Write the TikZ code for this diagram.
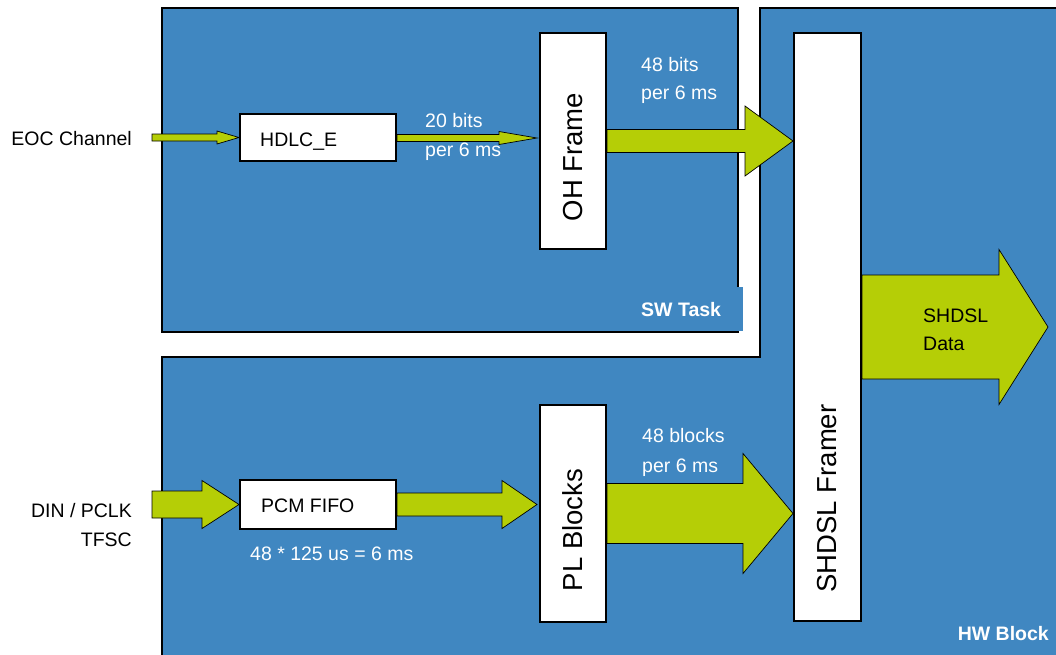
\documentclass[tikz,border=0pt]{standalone}
\usepackage{fontspec}
\setmainfont{Liberation Sans}
\usetikzlibrary{calc}
\definecolor{regionblue}{RGB}{64,135,193}
\definecolor{flowgreen}{RGB}{181,206,6}
\tikzset{
  region/.style={fill=regionblue, draw=black, line width=2pt, line join=miter},
  unitbox/.style={draw=black, fill=white, line width=2pt, inner sep=0pt},
  flow/.style={fill=flowgreen, draw=black, line width=0.7pt, line join=miter},
  txt/.style={font=\fontsize{19.5}{22}\selectfont, inner sep=0pt},
  wlbl/.style={txt, text=white, anchor=base west},
  blbl/.style={txt, text=black},
  tag/.style={font=\fontsize{19.5}{22}\selectfont\bfseries, text=white, inner sep=0pt},
  vtxt/.style={font=\fontsize{27.5}{30}\selectfont, rotate=90, inner sep=0pt},
}
% horizontal block arrow: tail, tip, shaft half-height, head half-height, head length
\newcommand\blockflow[5]{%
  \draw[flow] let \p1=(#1), \p2=(#2) in
    (\x1,\y2+#3pt) -- (\x2-#5pt,\y2+#3pt) -- (\x2-#5pt,\y2+#4pt) -- (\x2,\y2)
    -- (\x2-#5pt,\y2-#4pt) -- (\x2-#5pt,\y2-#3pt) -- (\x1,\y2-#3pt) -- cycle;
}
\begin{document}
\begin{tikzpicture}[x=1pt, y=-1pt]
\useasboundingbox (0,0) rectangle (1056,654);

% hardware region (L-shaped) and software task region
\draw[region] (162,660) -- (162,357) -- (760,357) -- (760,8) -- (1062,8) -- (1062,660) -- cycle;
\draw[region] (162,8) rectangle (738,332);
\fill[regionblue] (600,287) rectangle (743,331);

% processing units
\node[unitbox, minimum width=156pt, minimum height=47pt] (hdlc) at (318,137.5) {};
\node[unitbox, minimum width=66pt, minimum height=216pt] (oh) at (573,141) {};
\node[unitbox, minimum width=156pt, minimum height=49pt] (pcm) at (318,504.5) {};
\node[unitbox, minimum width=66pt, minimum height=217pt] (pl) at (573,513.5) {};
\node[unitbox, minimum width=67pt, minimum height=588pt] (framer) at (827.5,327) {};

% inputs
\node[blbl, anchor=base east] (eoc) at (132,145) {EOC Channel};
\node[blbl, anchor=base east] (din) at (132,517) {DIN / PCLK};
\node[blbl, anchor=base east] (tfsc) at (132,546) {TFSC};
\coordinate (eocin) at (152,138);
\coordinate (dinin) at (152,504);
\coordinate (datatip) at (1048,327);

% data flows
\blockflow{eocin}{hdlc.west}{3.5}{6.5}{22}
\blockflow{hdlc.east}{$(oh.west)+(-2,-3)$}{3.5}{6.5}{38}
\blockflow{oh.east}{framer.west |- oh.east}{11.5}{35}{48}
\blockflow{dinin}{pcm.west}{13.5}{24}{37}
\blockflow{pcm.east}{$(pl.west |- pcm.west)+(-2,0)$}{11.5}{24}{35}
\blockflow{$(pl.east)+(0,-0.5)$}{framer.west |- pl.east}{30}{60}{50}
\blockflow{framer.east |- datatip}{datatip}{52}{77.5}{49}

% texts in the units
\node[blbl, anchor=base west] (hdlct) at (260,146) {HDLC\_E};
\node[blbl, anchor=base west] (pcmt) at (261,512) {PCM FIFO};
\node[vtxt] (oht) at (573,157) {OH Frame};
\node[vtxt] (plt) at (573,530) {PL Blocks};
\node[vtxt] (framert) at (827.5,498.5) {SHDSL Framer};

% rates
\node[wlbl] (r1a) at (425,127) {20 bits};
\node[wlbl] (r1b) at (425,156) {per 6 ms};
\node[wlbl] (r2a) at (641,71) {48 bits};
\node[wlbl] (r2b) at (641,99) {per 6 ms};
\node[wlbl] (r3a) at (642,442) {48 blocks};
\node[wlbl] (r3b) at (642,472) {per 6 ms};
\node[wlbl] (r4) at (250,560) {48 * 125 us = 6 ms};
\node[blbl, anchor=base west] (da) at (923,322) {SHDSL};
\node[blbl, anchor=base west] (db) at (923,350) {Data};

% region tags
\node[tag, anchor=base west] (swtag) at (641,316) {SW Task};
\node[tag, anchor=base east] (hwtag) at (1049,640) {HW Block};
\end{tikzpicture}
\end{document}
